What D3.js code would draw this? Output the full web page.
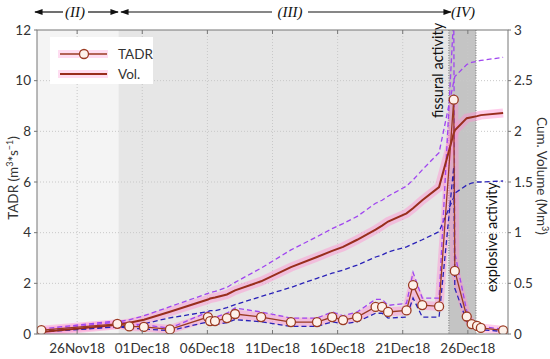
<!DOCTYPE html>
<html>
<head>
<meta charset="utf-8">
<script src="https://cdn.jsdelivr.net/npm/d3@7"></script>
<style>
  body { margin: 0; background: #fff; }
  svg text { font-family: Lato, "Open Sans", sans-serif; fill: #333; }
  .grid line { stroke: #c8c8c8; stroke-dasharray: 1,2; }
</style>
</head>
<body>
<svg id="chart" width="550" height="359"></svg>
<script>
// measurement dates
const dates = [
  "2018-11-23T06:00", "2018-11-29T02:00", "2018-11-30T00:00", "2018-12-01T03:00",
  "2018-12-03T03:00", "2018-12-06T01:00", "2018-12-06T05:00", "2018-12-06T14:00",
  "2018-12-07T12:00", "2018-12-08T03:00", "2018-12-10T03:00", "2018-12-12T10:00",
  "2018-12-14T10:00", "2018-12-15T14:00", "2018-12-16T10:00", "2018-12-17T12:00",
  "2018-12-18T22:00", "2018-12-19T10:00", "2018-12-19T21:00", "2018-12-21T07:00",
  "2018-12-21T19:00", "2018-12-22T12:00", "2018-12-23T19:00", "2018-12-24T22:00",
  "2018-12-25T00:00", "2018-12-25T22:00", "2018-12-26T07:00", "2018-12-26T17:00",
  "2018-12-27T00:00", "2018-12-28T17:00"
];
// TADR (m3/s) and its bounds
const tadr   = [0.15,0.40,0.30,0.28,0.18,0.67,0.51,0.51,0.63,0.79,0.67,0.47,0.47,0.67,0.55,0.67,1.07,1.07,0.87,0.93,1.93,1.14,1.09,9.25,2.49,0.69,0.39,0.32,0.24,0.14];
const tadrHi = [0.20,0.52,0.39,0.36,0.23,0.87,0.66,0.66,0.82,1.03,0.87,0.63,0.63,0.87,0.72,0.87,1.37,1.37,1.13,1.21,2.43,1.42,1.42,12.6,3.20,0.90,0.50,0.42,0.31,0.18];
const tadrLo = [0.11,0.29,0.22,0.20,0.13,0.48,0.37,0.37,0.45,0.57,0.48,0.30,0.30,0.48,0.40,0.48,0.82,0.82,0.63,0.67,1.42,0.67,0.67,6.60,1.80,0.50,0.28,0.23,0.17,0.10];
// cumulative volume (Mm3) and its bounds
const vol   = [0.02,0.09,0.11,0.14,0.22,0.34,0.35,0.36,0.39,0.43,0.52,0.66,0.76,0.82,0.86,0.93,1.03,1.07,1.11,1.19,1.24,1.32,1.45,1.98,2.01,2.13,2.14,2.15,2.16,2.18];
const volHi = [0.03,0.12,0.14,0.18,0.27,0.40,0.41,0.42,0.46,0.51,0.65,0.83,0.96,1.04,1.09,1.16,1.29,1.32,1.36,1.46,1.52,1.62,1.79,2.49,2.54,2.66,2.68,2.69,2.70,2.73];
const volLo = [0.02,0.07,0.08,0.10,0.16,0.22,0.23,0.23,0.26,0.29,0.37,0.46,0.55,0.60,0.63,0.68,0.76,0.78,0.81,0.86,0.89,0.93,1.01,1.35,1.39,1.47,1.49,1.50,1.50,1.51];

const xTicks = ["2018-11-26", "2018-12-01", "2018-12-06", "2018-12-11", "2018-12-16", "2018-12-21", "2018-12-26"];
const yLeftTicks = [0, 2, 4, 6, 8, 10, 12];
const yRightTicks = [0, 0.5, 1, 1.5, 2, 2.5, 3];
// phase boundaries
const phases = [
  {start: "2018-11-22T22:00", end: "2018-11-29T04:00", fill: "#f4f4f4"},
  {start: "2018-11-29T04:00", end: "2018-12-24T13:00", fill: "#e6e6e6"},
  {start: "2018-12-24T13:00", end: "2018-12-26T15:00", fill: "#c4c4c4"}
];

const parse = d3.isoParse;
const fmt = d3.timeFormat("%d%b%y");
const L = 37, R = 508, T = 30, B = 334;

const svg = d3.select("#chart");
const x = d3.scaleTime()
  .domain([parse("2018-11-22T22:00"), parse("2018-12-29T02:00")])
  .range([L, R]);
const yL = d3.scaleLinear().domain([0, 12]).range([B, T]);
const yR = d3.scaleLinear().domain([0, 3]).range([B, T]);

svg.append("clipPath").attr("id", "clip")
  .append("rect").attr("x", L).attr("y", T).attr("width", R - L).attr("height", B - T);

const plot = svg.append("g").attr("clip-path", "url(#clip)");

plot.selectAll("rect.phase").data(phases).enter().append("rect")
  .attr("class", "phase")
  .attr("x", d => x(parse(d.start)))
  .attr("width", d => x(parse(d.end)) - x(parse(d.start)))
  .attr("y", T).attr("height", B - T)
  .attr("fill", d => d.fill);

// dotted borders of explosive phase
plot.selectAll("line.pb").data([phases[2].start, phases[2].end]).enter().append("line")
  .attr("x1", d => x(parse(d))).attr("x2", d => x(parse(d)))
  .attr("y1", T).attr("y2", B)
  .attr("stroke", "#777").attr("stroke-dasharray", "1,1.5");

// grid
const grid = plot.append("g").attr("class", "grid");
grid.selectAll("line.gy").data(yLeftTicks.slice(1, -1)).enter().append("line")
  .attr("x1", L).attr("x2", R).attr("y1", d => yL(d)).attr("y2", d => yL(d));
grid.selectAll("line.gx").data(xTicks).enter().append("line")
  .attr("y1", T).attr("y2", B).attr("x1", d => x(parse(d))).attr("x2", d => x(parse(d)));

const pts = dates.map((d, i) => ({
  t: parse(d), tadr: tadr[i], tadrHi: tadrHi[i], tadrLo: tadrLo[i],
  vol: vol[i], volHi: volHi[i], volLo: volLo[i]
}));

const lineOf = (key, scale) => d3.line().x(d => x(d.t)).y(d => scale(d[key]));

// pink halo behind main series
plot.append("path").datum(pts).attr("d", lineOf("vol", yR))
  .attr("fill", "none").attr("stroke", "#ff8fd0").attr("stroke-opacity", 0.45).attr("stroke-width", 9);
plot.append("path").datum(pts).attr("d", lineOf("tadr", yL))
  .attr("fill", "none").attr("stroke", "#ff8fd0").attr("stroke-opacity", 0.45).attr("stroke-width", 9);

// bounds
const dashed = [
  {key: "volHi", scale: yR, color: "#a046f0"},
  {key: "volLo", scale: yR, color: "#2a22b8"},
  {key: "tadrHi", scale: yL, color: "#a046f0"},
  {key: "tadrLo", scale: yL, color: "#2a22b8"}
];
dashed.forEach(s => {
  plot.append("path").datum(pts).attr("d", lineOf(s.key, s.scale))
    .attr("fill", "none").attr("stroke", s.color).attr("stroke-width", 1.3)
    .attr("stroke-dasharray", "5,3");
});

plot.append("path").datum(pts).attr("d", lineOf("vol", yR))
  .attr("fill", "none").attr("stroke", "#982e1c").attr("stroke-width", 2);
plot.append("path").datum(pts).attr("d", lineOf("tadr", yL))
  .attr("fill", "none").attr("stroke", "#9a3b22").attr("stroke-width", 1.3);
plot.selectAll("circle.m").data(pts).enter().append("circle")
  .attr("cx", d => x(d.t)).attr("cy", d => yL(d.tadr)).attr("r", 4.5)
  .attr("fill", "#fdf1ea").attr("stroke", "#9a3b22").attr("stroke-width", 1.3);

// rotated in-plot labels
svg.append("text").attr("transform", `translate(${x(parse("2018-12-24T03:00"))},118) rotate(-90)`)
  .attr("font-size", 14.5).style("fill", "#111").text("fissural activity");
svg.append("text").attr("transform", `translate(${x(parse("2018-12-28T05:00"))},292) rotate(-90)`)
  .attr("font-size", 14.5).style("fill", "#111").text("explosive activity");

// axes frame
svg.append("rect").attr("x", L).attr("y", T).attr("width", R - L).attr("height", B - T)
  .attr("fill", "none").attr("stroke", "#777");

const ax = svg.append("g").attr("stroke", "#777");
xTicks.forEach(d => {
  const px = x(parse(d));
  ax.append("line").attr("x1", px).attr("x2", px).attr("y1", B).attr("y2", B - 4);
  ax.append("line").attr("x1", px).attr("x2", px).attr("y1", T).attr("y2", T + 4);
});
yLeftTicks.forEach(v => {
  ax.append("line").attr("x1", L - 3).attr("x2", L).attr("y1", yL(v)).attr("y2", yL(v));
});
yRightTicks.forEach(v => {
  ax.append("line").attr("x1", R).attr("x2", R + 3).attr("y1", yR(v)).attr("y2", yR(v));
});

svg.selectAll("text.xl").data(xTicks).enter().append("text")
  .attr("x", d => x(parse(d))).attr("y", 353).attr("text-anchor", "middle")
  .attr("font-size", 13.5).text(d => fmt(parse(d)));
svg.selectAll("text.yl").data(yLeftTicks).enter().append("text")
  .attr("x", L - 6).attr("y", d => yL(d) + 4.5).attr("text-anchor", "end")
  .attr("font-size", 13.5).text(d => d);
svg.selectAll("text.yr").data(yRightTicks).enter().append("text")
  .attr("x", R + 6).attr("y", d => yR(d) + 4.5).attr("text-anchor", "start")
  .attr("font-size", 13.5).text(d => d);

// axis titles
const tl = svg.append("text").attr("transform", "translate(18,178) rotate(-90)")
  .attr("text-anchor", "middle").attr("font-size", 13.5);
tl.append("tspan").text("TADR (m");
tl.append("tspan").attr("baseline-shift", "super").attr("font-size", 9).text("3");
tl.append("tspan").text("*s");
tl.append("tspan").attr("baseline-shift", "super").attr("font-size", 9).text("\u22121");
tl.append("tspan").text(")");

const tr = svg.append("text").attr("transform", "translate(537,176) rotate(90)")
  .attr("text-anchor", "middle").attr("font-size", 13.5);
tr.append("tspan").text("Cum. Volume  (Mm");
tr.append("tspan").attr("baseline-shift", "super").attr("font-size", 9).text("3");
tr.append("tspan").text(")");

// legend
const lg = svg.append("g");
lg.append("rect").attr("x", 50).attr("y", 37).attr("width", 103).attr("height", 47).attr("fill", "#fff");
[{y: 54, marker: true, label: "TADR"}, {y: 74, marker: false, label: "Vol."}].forEach(e => {
  lg.append("line").attr("x1", 58).attr("x2", 108).attr("y1", e.y).attr("y2", e.y)
    .attr("stroke", "#ff8fd0").attr("stroke-opacity", 0.3).attr("stroke-width", 8);
  lg.append("line").attr("x1", 60).attr("x2", 107).attr("y1", e.y).attr("y2", e.y)
    .attr("stroke", e.marker ? "#9a3b22" : "#982e1c").attr("stroke-width", e.marker ? 1.3 : 2);
  if (e.marker) {
    lg.append("circle").attr("cx", 84).attr("cy", e.y).attr("r", 4.5)
      .attr("fill", "#fdf1ea").attr("stroke", "#9a3b22").attr("stroke-width", 1.3);
  }
  lg.append("text").attr("x", 118).attr("y", e.y + 4.5).attr("font-size", 13.5).text(e.label);
});

// phase arrows on top
const defs = svg.append("defs");
defs.append("marker").attr("id", "ah").attr("viewBox", "0 0 10 10").attr("refX", 9).attr("refY", 5)
  .attr("markerWidth", 7).attr("markerHeight", 7).attr("orient", "auto-start-reverse")
  .append("path").attr("d", "M0,1.5 L10,5 L0,8.5 Z").attr("fill", "#111");

const arrowY = 12;
const phaseLabels = [
  {label: "(II)", cx: 75, a: [[35, 63], [88, 118]]},
  {label: "(III)", cx: 290, a: [[121, 272], [308, 451]]},
  {label: "(IV)", cx: 463, a: []}
];
phaseLabels.forEach(p => {
  svg.append("text").attr("x", p.cx).attr("y", arrowY + 5).attr("text-anchor", "middle")
    .attr("font-size", 15).style("font-family", "'Liberation Serif', serif")
    .style("font-style", "italic").style("fill", "#111").text(p.label);
  p.a.forEach((seg, i) => {
    svg.append("line").attr("x1", seg[0]).attr("x2", seg[1]).attr("y1", arrowY).attr("y2", arrowY)
      .attr("stroke", "#111").attr("stroke-width", 1.2)
      .attr(i === 0 ? "marker-start" : "marker-end", "url(#ah)");
  });
});
</script>
</body>
</html>
